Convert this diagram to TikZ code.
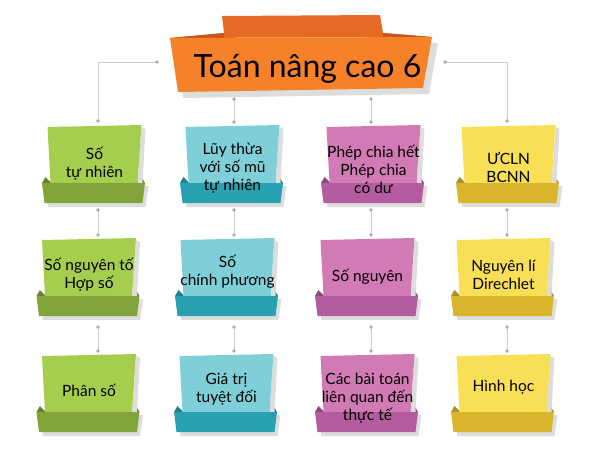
\documentclass[tikz,border=0pt]{standalone}
\usepackage{fontspec}
\setmainfont{Lato}
\definecolor{gL}{HTML}{A6CE4E}\definecolor{gD}{HTML}{80A43A}
\definecolor{cL}{HTML}{7ECFD8}\definecolor{cD}{HTML}{28A1B1}
\definecolor{pL}{HTML}{D27AB4}\definecolor{pD}{HTML}{B35CA0}
\definecolor{yL}{HTML}{F8DF55}\definecolor{yD}{HTML}{D8B52A}
\definecolor{oF}{HTML}{F5822B}\definecolor{oB}{HTML}{E56A24}\definecolor{oW}{HTML}{C8561C}
\definecolor{shad}{HTML}{DDDDDD}\definecolor{lineC}{HTML}{CCCCCC}\definecolor{dotC}{HTML}{AAAAAA}
\tikzset{
  conn/.style={draw=lineC,line width=1pt},
  dotmark/.style={fill=dotC,draw=none},
  boxtext/.style={align=center,inner sep=0pt,font=\fontsize{15.5}{18}\selectfont,text=black},
}
\newcommand\tbox[7]{%
\begin{scope}[shift={(#2,#3)}]
  \fill[shad] (-48,60) -- (55,60) -- (52,81) -- (-45,81) -- cycle;
  \fill[#5!80!black] (-51.5,57) -- (-48,51) -- (-42,57) -- cycle;
  \fill[#5!80!black] (51.5,57) -- (48,51) -- (42,57) -- cycle;
  \fill[shad] (48,1) -- (52,3) -- (49,57) -- (44,57) -- cycle;
  \fill[#4] (-46,1) -- (48,-1) -- (44,57) -- (-43,57) -- cycle;
  \fill[#5] (-51.5,57) -- (51.5,57) -- (49,77) -- (-49,77) -- cycle;
  \node[boxtext] (#1) at (1,#6) {#7};
\end{scope}}
\begin{document}
\begin{tikzpicture}[x=1pt,y=-1pt]
\useasboundingbox (0,0) rectangle (601,450);
% connector end points
\foreach \n/\x in {1/98,2/234,3/371,4/507}{
  \coordinate (a\n) at (\x,210); \coordinate (b\n) at (\x,235);
  \coordinate (c\n) at (\x,327); \coordinate (d\n) at (\x,351);
}
\coordinate (tl) at (157,62); \coordinate (tlc) at (98,62); \coordinate (t1) at (98,121);
\coordinate (tr) at (445,62); \coordinate (trc) at (507,62); \coordinate (t4) at (507,121);
\coordinate (m2) at (234,99); \coordinate (t2) at (234,122);
\coordinate (m3) at (371,99); \coordinate (t3) at (371,122);
\draw[conn] (tl) -- (tlc) -- (t1);
\draw[conn] (tr) -- (trc) -- (t4);
\draw[conn] (m2) -- (t2);
\draw[conn] (m3) -- (t3);
\foreach \n in {1,2,3,4}{
  \draw[conn] (a\n) -- (b\n);
  \draw[conn] (c\n) -- (d\n);
  \foreach \p in {a,b,c,d}{\fill[dotmark] (\p\n) circle (1.9);}
}
\foreach \p in {tl,t1,tr,t4,m2,t2,m3,t3}{\fill[dotmark] (\p) circle (1.9);}
% title banner
\fill[oB] (222,16) -- (380,15) -- (383,33) -- (432,37) -- (170,38) -- (224,33) -- cycle;
\fill[oW] (224,33) -- (170,38) -- (224,38) -- cycle;
\fill[oW] (383,33) -- (432,37) -- (383,38) -- cycle;
\fill[shad] (175,44) -- (438,43) -- (429,94) -- (183,98) -- cycle;
\fill[oF] (170,38) -- (432,37) -- (423,88) -- (178,92) -- cycle;
\node[anchor=base,inner sep=0pt,font=\fontsize{32}{36}\selectfont] (title) at (307.5,77) {Toán nâng cao 6};
% boxes
\tbox{b11}{93.5}{126}{gL}{gD}{38}{Số\\tự nhiên}
\tbox{b12}{231.5}{126}{cL}{cD}{42}{Lũy thừa\\với số mũ\\tự nhiên}
\tbox{b13}{372.5}{126}{pL}{pD}{43}{Phép chia hết\\Phép chia\\có dư}
\tbox{b14}{507.5}{126}{yL}{yD}{41}{ƯCLN\\BCNN}
\tbox{b21}{88}{239}{gL}{gD}{36}{Số nguyên tố\\Hợp số}
\tbox{b22}{226.5}{239}{cL}{cD}{33}{Số\\chính phương}
\tbox{b23}{366.5}{239}{pL}{pD}{38}{Số nguyên}
\tbox{b24}{502.5}{239}{yL}{yD}{36}{Nguyên lí\\Direchlet}
\tbox{b31}{88}{355}{gL}{gD}{35}{Phân số}
\tbox{b32}{225.5}{355}{cL}{cD}{34}{Giá trị\\tuyệt đối}
\tbox{b33}{366.5}{355}{pL}{pD}{43}{Các bài toán\\liên quan đến\\thực tế}
\tbox{b34}{502.5}{355}{yL}{yD}{32}{Hình học}
\end{tikzpicture}
\end{document}
